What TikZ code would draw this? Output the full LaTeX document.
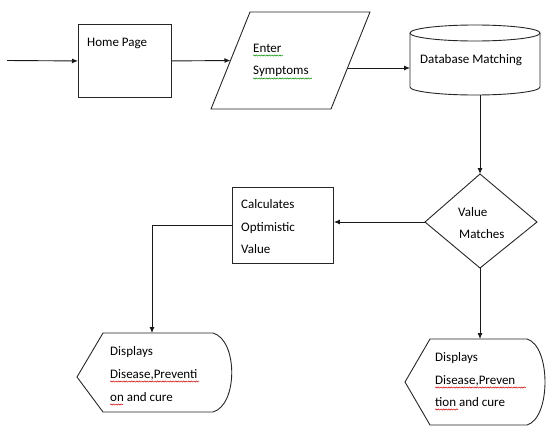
\documentclass[tikz,border=0pt]{standalone}
\usepackage{fontspec}
\setmainfont{Carlito}
\usetikzlibrary{arrows.meta,decorations.pathmorphing}
\begin{document}
\begin{tikzpicture}[x=1pt,y=-1pt,
  shapeline/.style={draw=black!85, line width=0.9pt},
  conn/.style={draw=black!90, line width=0.9pt},
  arr/.style={conn,-{Latex[length=6pt,width=5pt]}},
  lbl/.style={anchor=base west, inner sep=0pt, font=\fontsize{13}{15}\selectfont, text=black},
  squig/.style={decorate, decoration={snake, amplitude=0.6pt, segment length=2.6pt}, line width=0.5pt},
  greensq/.style={squig, draw=green!55!black},
  redsq/.style={squig, draw=red!80!black},
]
\useasboundingbox (0,0) rectangle (546,426);

% Home page box
\node[shapeline, minimum width=93pt, minimum height=73pt, anchor=north west, inner sep=0pt] (home) at (78,24) {};
\node[lbl] (homet) at (87,46) {Home Page};
\coordinate (start) at (7,60.5);

% Enter symptoms parallelogram
\draw[shapeline] (250,12) -- (370,12) -- (331,109) -- (211,109) -- cycle;
\coordinate (pin) at (230.5,60.5);
\coordinate (pout) at (347.5,68);
\node[lbl] (enter1) at (253,52) {Enter};
\node[lbl] (enter2) at (253,74) {Symptoms};
\draw[greensq] (enter1.base west) ++(0,3.5) -- ++(30,0);
\draw[greensq] (enter2.base west) ++(0,4.5) -- ++(59,0);

% Database cylinder
\draw[shapeline] (410,33) -- (410,87) arc[start angle=180, end angle=0, x radius=65, y radius=8] -- (540,33);
\draw[shapeline] (475,33) ellipse [x radius=65, y radius=8];
\coordinate (dbin) at (410,68);
\coordinate (dbbot) at (480,94.8);
\node[lbl] (dbt) at (420,63) {Database Matching};

% Decision diamond
\draw[shapeline] (480,174) -- (537,222) -- (480,268) -- (425,222) -- cycle;
\coordinate (dtop) at (480,174);
\coordinate (dleft) at (425,222);
\coordinate (dbottom) at (480,268);
\node[lbl] (val1) at (458,216) {Value};
\node[lbl] (val2) at (459,238) {Matches};

% Calculates box
\node[shapeline, minimum width=101pt, minimum height=76pt, anchor=north west, inner sep=0pt] (calc) at (232,187) {};
\node[lbl] (c1) at (241,208) {Calculates};
\node[lbl] (c2) at (241,231) {Optimistic};
\node[lbl] (c3) at (241,253) {Value};

% Display 1
\draw[shapeline] (77,377) -- (103,333) -- (213,333) .. controls (238,340) and (238,405) .. (213,412) -- (103,412) -- cycle;
\coordinate (d1top) at (152,333);
\node[lbl] (a1) at (110,355) {Displays};
\node[lbl] (a2) at (110,378) {Disease,Preventi};
\node[lbl] (a3) at (110,401) {on and cure};
\draw[redsq] (a2.base west) ++(0,3.5) -- ++(89,0);
\draw[redsq] (a3.base west) ++(0,3.5) -- ++(13,0);

% Display 2
\draw[shapeline] (405,382) -- (430,339) -- (527,339) .. controls (551,346) and (551,418) .. (527,425) -- (430,425) -- cycle;
\coordinate (d2top) at (480,339);
\node[lbl] (b1) at (435,361) {Displays};
\node[lbl] (b2) at (435,384) {Disease,Preven};
\node[lbl] (b3) at (435,406) {tion and cure};
\draw[redsq] (b2.base west) ++(0,3.5) -- ++(91,0);
\draw[redsq] (b3.base west) ++(0,3.5) -- ++(23,0);

% Connectors
\draw[arr] (start) -- (home.west);
\draw[arr] (home.east) -- (pin);
\draw[arr] (pout) -- (dbin);
\draw[arr] (dbbot) -- (dtop);
\draw[arr] (dleft) -- (calc.east |- dleft);
\draw[arr] (calc.west) -| (d1top);
\draw[arr] (dbottom) -- (d2top);
\end{tikzpicture}
\end{document}
